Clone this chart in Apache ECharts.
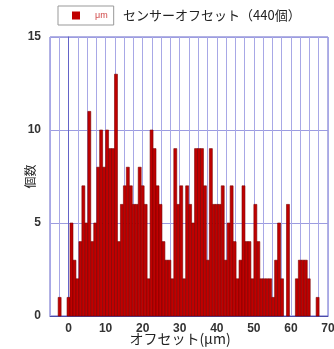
<!DOCTYPE html>
<html><head><meta charset="utf-8">
<script src="https://cdn.jsdelivr.net/npm/echarts@6/dist/echarts.min.js"></script>
<style>html,body{margin:0;padding:0;background:#fff}#c{width:334px;height:349px}</style>
</head><body><div id="c"></div>
<script>
// Histogram data (bin width 0.8 µm, first bin starts at -2.8 µm)
const binStart = -2.8;
const binWidth = 0.8;
const counts = [
  1,0,0,1,5,3,2,4,7,5, 11,4,5,8,10,8,10,9,9,13,
  4,6,7,8,7,6,6,8,7,6, 2,10,9,7,6,4,3,3,2,9,
  6,7,2,7,6,5,9,9,9,7, 3,9,6,6,6,7,3,5,7,4,
  2,3,7,4,4,2,6,4,2,2, 2,2,1,3,5,2,0,6,0,0,
  2,3,3,3,2,0,0,1
];
const xTicks = [0,10,20,30,40,50,60,70];
const yTicks = [0,5,10,15];
const legendName = 'μm';
const titleText = 'センサーオフセット（440個）';
const xName = 'オフセット(μm)';
const yName = '個数';

const data = counts.map((c, i) => [binStart + i * binWidth, c]);

const chart = echarts.init(document.getElementById('c'), null, {renderer: 'canvas'});
chart.setOption({
  animation: false,
  backgroundColor: '#fff',
  title: {
    text: titleText, left: 123, top: 9, padding: 0,
    textStyle: {fontFamily: 'Noto Sans CJK JP', fontSize: 13, fontWeight: 'normal', color: '#222'}
  },
  legend: {
    left: 58, top: 6, padding: [5, 6, 5, 14],
    borderColor: '#999', borderWidth: 1,
    itemWidth: 8, itemHeight: 8,
    data: [{name: legendName, icon: 'rect'}],
    textStyle: {fontFamily: 'Liberation Sans', fontSize: 9, color: '#d04848', padding: [0, 0, 0, 10]}
  },
  grid: {left: 50, right: 6, top: 37, bottom: 33, show: true, borderColor: '#6464c8', borderWidth: 1,
         outerBoundsMode: 'none', containLabel: false},
  xAxis: {
    type: 'value', min: -5, max: 70, interval: 2.5,
    name: xName, nameLocation: 'middle', nameGap: 16, nameMoveOverlap: false,
    nameTextStyle: {fontFamily: 'Noto Sans CJK JP', fontSize: 14, color: '#222', padding: [0, 18, 0, 0]},
    axisLine: {show: true, onZero: false, lineStyle: {color: '#4a4aa8', width: 1}},
    axisTick: {show: false},
    axisLabel: {
      margin: 7, fontFamily: 'Liberation Sans', fontWeight: 'bold', fontSize: 12, color: '#333',
      formatter: v => (xTicks.indexOf(Math.round(v * 10) / 10) >= 0 ? String(v) : '')
    },
    splitLine: {show: true, lineStyle: {color: '#a8a8e6', width: 1}}
  },
  yAxis: {
    type: 'value', min: 0, max: 15, interval: 5,
    name: yName, nameLocation: 'middle', nameGap: 14, nameRotate: 90, nameMoveOverlap: false,
    nameTextStyle: {fontFamily: 'Noto Sans CJK JP', fontSize: 12, color: '#222'},
    axisLine: {show: true, lineStyle: {color: '#6464c8'}},
    axisTick: {show: false},
    axisLabel: {
      margin: 9, fontFamily: 'Liberation Sans', fontWeight: 'bold', fontSize: 12, color: '#333',
      formatter: v => (yTicks.indexOf(v) >= 0 ? String(v) : '')
    },
    splitLine: {show: true, lineStyle: {color: '#9c9ce0', width: 1}}
  },
  series: [{
    name: legendName,
    type: 'custom',
    color: '#c00000',
    itemStyle: {color: '#c00000'},
    data: data,
    encode: {x: 0, y: 1},
    renderItem: function (params, api) {
      const x0 = api.value(0), v = api.value(1);
      if (!v) return null;
      const pTop = api.coord([x0, v]);
      const pBot = api.coord([x0 + binWidth, 0]);
      return {
        type: 'rect',
        shape: {x: pTop[0], y: pTop[1], width: pBot[0] - pTop[0], height: pBot[1] - pTop[1]},
        style: {fill: '#c00000', stroke: '#780000', lineWidth: 0.6}
      };
    }
  }]
});
</script></body></html>
